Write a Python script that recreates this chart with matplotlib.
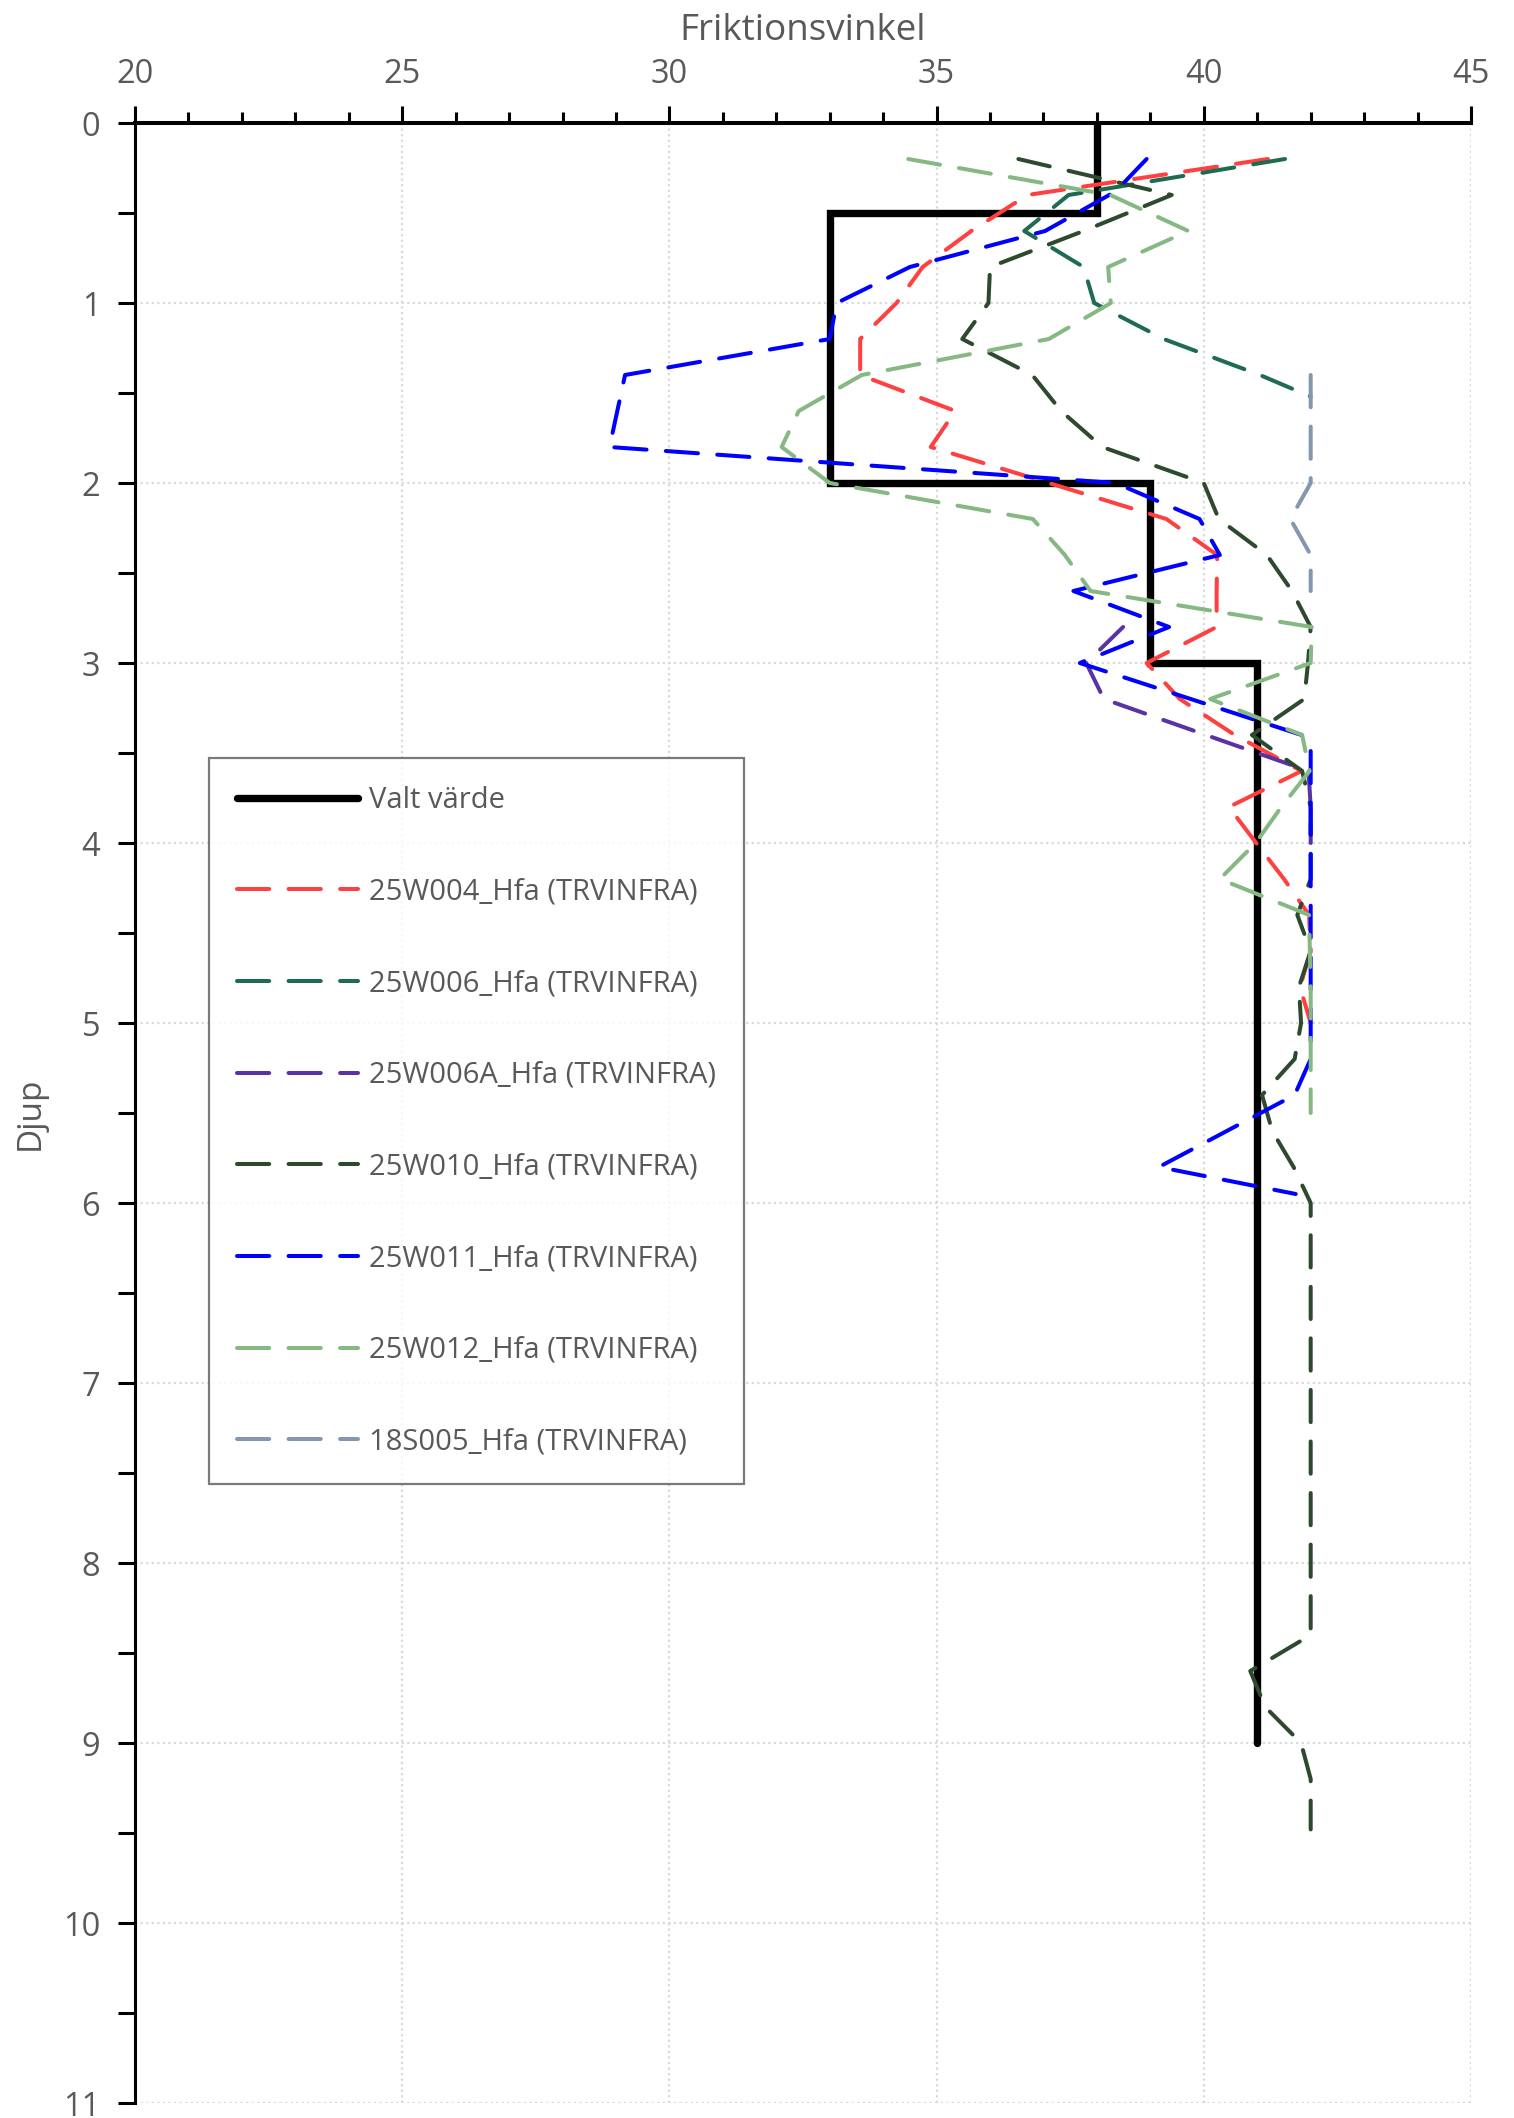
import numpy as np
import matplotlib.pyplot as plt
from matplotlib.ticker import MultipleLocator

plt.rcParams['font.family'] = ['Open Sans', 'DejaVu Sans']

# valt värde (trappstegslinje)
valt_djup = [0, 0.5, 0.5, 2, 2, 3, 3, 9]
valt_phi = [38, 38, 33, 33, 39, 39, 41, 41]

# 25W004_Hfa
w004_djup = [0.2, 0.4, 0.6, 0.8, 1.0, 1.2, 1.4, 1.6, 1.8, 2.0, 2.2, 2.4, 2.6, 2.8,
             3.0, 3.2, 3.4, 3.6, 3.8, 4.0, 4.2, 4.4, 4.6, 4.8, 5.0]
w004_phi = [41.2, 36.7, 35.65, 34.74, 34.25, 33.57, 33.57, 35.35, 34.89, 37.1, 39.3, 40.25, 40.24, 40.24,
            38.93, 39.55, 40.58, 41.83, 40.47, 40.98, 41.5, 41.97, 42.0, 41.8, 42.0]

# 25W006_Hfa
w006_djup = [0.2, 0.4, 0.6, 0.8, 1.0, 1.2, 1.4, 1.52]
w006_phi = [41.52, 37.47, 36.64, 37.75, 37.95, 39.25, 41.05, 42.0]

# 25W006A_Hfa
w006a_djup = [2.8, 3.0, 3.2, 3.4, 3.6, 3.8, 4.0]
w006a_phi = [38.49, 37.8, 38.13, 40.04, 41.96, 42.0, 42.0]

# 25W010_Hfa
w010_djup = [0.2, 0.4, 0.6, 0.8, 1.0, 1.2, 1.4, 1.6, 1.8, 2.0, 2.2, 2.4, 2.6, 2.8,
             3.0, 3.2, 3.4, 3.6, 3.8, 4.0, 4.2, 4.4, 4.6, 4.8, 5.0, 5.2, 5.4, 5.6, 5.8,
             6.0, 6.4, 6.8, 7.2, 7.6, 8.0, 8.4, 8.6, 8.8, 9.0, 9.2, 9.48]
w010_phi = [36.53, 39.4, 37.75, 36.0, 35.97, 35.48, 36.79, 37.33, 38.1, 40.0, 40.28, 41.18, 41.65, 42.0,
            41.95, 41.88, 40.9, 41.84, 42.0, 42.0, 42.0, 41.75, 42.0, 41.78, 41.82, 41.7, 41.09, 41.28, 41.68,
            42.0, 42.0, 42.0, 42.0, 42.0, 42.0, 42.0, 40.87, 41.15, 41.82, 42.0, 42.0]

# 25W011_Hfa
w011_djup = [0.2, 0.38, 0.6, 0.8, 1.0, 1.2, 1.4, 1.8, 2.0, 2.2, 2.4, 2.6, 2.8, 3.0,
             3.4, 3.45, 4.0, 4.6, 5.2, 5.4, 5.8, 5.95]
w011_phi = [38.93, 38.35, 37.03, 34.5, 33.13, 33.0, 29.17, 28.88, 38.35, 39.92, 40.3, 37.56, 39.35, 37.68,
            41.83, 42.0, 42.0, 42.0, 42.0, 41.7, 39.16, 41.72]

# 25W012_Hfa
w012_djup = [0.2, 0.4, 0.6, 0.8, 1.0, 1.2, 1.4, 1.6, 1.8, 2.0, 2.2, 2.4, 2.6, 2.8,
             3.0, 3.2, 3.4, 3.6, 3.8, 4.0, 4.2, 4.4, 4.8, 5.2, 5.5]
w012_phi = [34.47, 38.25, 39.71, 38.21, 38.26, 37.1, 33.6, 32.42, 32.1, 33.0, 36.8, 37.4, 37.88, 42.02,
            42.0, 40.12, 41.84, 41.98, 41.45, 40.97, 40.3, 41.97, 42.0, 42.0, 42.0]

# 18S005_Hfa
s005_djup = [1.4, 1.6, 1.8, 2.0, 2.2, 2.4, 2.6]
s005_phi = [42.0, 42.0, 42.0, 42.0, 41.62, 42.0, 42.0]

serier = [
    ("25W004_Hfa (TRVINFRA)", w004_phi, w004_djup, "#ff4040"),
    ("25W006_Hfa (TRVINFRA)", w006_phi, w006_djup, "#1f6b50"),
    ("25W006A_Hfa (TRVINFRA)", w006a_phi, w006a_djup, "#5a32a3"),
    ("25W010_Hfa (TRVINFRA)", w010_phi, w010_djup, "#2e4a2e"),
    ("25W011_Hfa (TRVINFRA)", w011_phi, w011_djup, "#0000ff"),
    ("25W012_Hfa (TRVINFRA)", w012_phi, w012_djup, "#85b882"),
    ("18S005_Hfa (TRVINFRA)", s005_phi, s005_djup, "#8497b0"),
]

grey = "#595959"

fig = plt.figure(figsize=(15.14, 21.18), dpi=100)
ax = fig.add_axes((135 / 1514, 15 / 2118, 1336 / 1514, 1980 / 2118))

ax.plot(valt_phi, valt_djup, color="black", lw=5.3, solid_joinstyle="miter",
        solid_capstyle="round", label="Valt värde", zorder=3)
for namn, phi, djup, farg in serier:
    ax.plot(phi, djup, color=farg, lw=2.9, linestyle=(0, (8.0, 4.8)),
            dash_capstyle="round", dash_joinstyle="round", label=namn, zorder=4)

ax.set_xlim(20, 45)
ax.set_ylim(11, 0)
ax.xaxis.tick_top()
ax.xaxis.set_label_position("top")
ax.xaxis.set_major_locator(MultipleLocator(5))
ax.xaxis.set_minor_locator(MultipleLocator(1))
ax.yaxis.set_major_locator(MultipleLocator(1))
ax.yaxis.set_minor_locator(MultipleLocator(0.5))

ax.spines["right"].set_visible(False)
ax.spines["bottom"].set_visible(False)
ax.spines["top"].set_linewidth(2.9)
ax.spines["left"].set_linewidth(2.2)

ax.tick_params(axis="x", which="major", direction="out", length=12, width=2.2,
               pad=11, labelsize=23.5, labelcolor=grey, color="black")
ax.tick_params(axis="x", which="minor", direction="out", length=8, width=2.2, color="black")
ax.tick_params(axis="y", which="both", direction="out", length=12, width=2.2,
               pad=13, labelsize=23.5, labelcolor=grey, color="black")

ax.grid(True, which="major", color="#d9d9d9", linestyle=(0, (1, 1.5)), lw=1.6)
ax.set_axisbelow(True)

ax.set_xlabel("Friktionsvinkel", fontsize=26.5, color=grey, labelpad=13)
ax.set_ylabel("Djup", fontsize=24, color=grey, labelpad=12)

leg = ax.legend(loc="upper left", bbox_to_anchor=(74 / 1336, 1 - 635 / 1980),
                borderaxespad=0, fontsize=21, frameon=True, fancybox=False,
                handlelength=4.15, handletextpad=0.4, labelspacing=2.15, borderpad=0.95)
leg.get_frame().set_edgecolor(grey)
leg.get_frame().set_linewidth(1.6)
for t in leg.get_texts():
    t.set_color(grey)

fig.savefig("out.png", dpi=100)
